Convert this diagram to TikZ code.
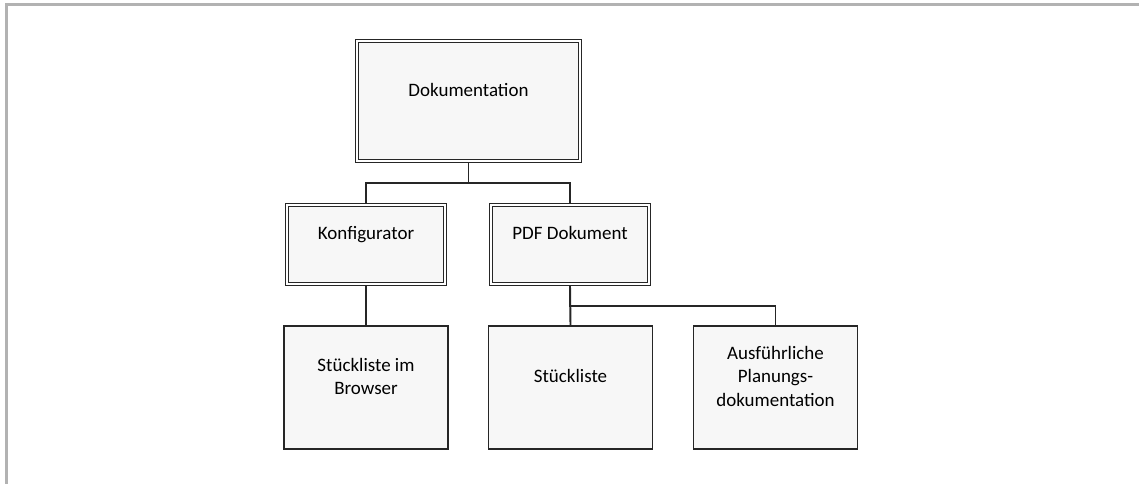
\documentclass[tikz,border=0pt]{standalone}
\usepackage{fontspec}
\setmainfont{Carlito}
\usepackage{tikz}

% Text etwas oberhalb der Kastenmitte setzen
\newcommand{\hoch}[2][5.3pt]{\raisebox{#1}[\height][\depth]{\begin{tabular}{@{}c@{}}#2\end{tabular}}}

\tikzset{
  kasten/.style={draw=black!85, line width=0.8pt, fill=black!3, text=black,
    font=\fontsize{10.8}{13.2}\selectfont, inner sep=0pt,
    minimum width=3.28cm, minimum height=2.46cm},
  doppelkasten/.style={kasten, line width=0.6pt, double=white, double distance=1pt,
    outer sep=1.1pt, minimum width=3.16cm, minimum height=1.58cm},
  linie/.style={line width=1.1pt, black!85},
}

\begin{document}
\begin{tikzpicture}
  \useasboundingbox (0,0) rectangle (22.78,9.68);
  \draw[line width=1.7pt, black!30] (0.126,0) -- (0.126,9.59) -- (22.78,9.59);

  \node[doppelkasten, minimum width=4.46cm, minimum height=2.4cm] (doku) at (9.37,7.66) {\hoch{Dokumentation}};

  \node[doppelkasten] (konf) at (7.32,4.79) {\hoch{Konfigurator}};
  \node[doppelkasten] (pdf) at (11.40,4.79) {\hoch{PDF Dokument}};

  \node[kasten] (browser) at (7.32,1.93) {\hoch{Stückliste im\\Browser}};
  \node[kasten] (stk) at (11.41,1.93) {\hoch{Stückliste}};
  \node[kasten] (ausf) at (15.51,1.93) {\hoch{Ausführliche\\Planungs-\\dokumentation}};

  \draw[linie] (doku.south) -- ++(0,-0.4) -| (konf.north);
  \draw[linie] (doku.south) -- ++(0,-0.4) -| (pdf.north);
  \draw[linie] (konf.south) -- (browser.north);
  \draw[linie] (pdf.south) -- (stk.north);
  \draw[linie] (pdf.south) -- ++(0,-0.4) -| (ausf.north);
\end{tikzpicture}
\end{document}
